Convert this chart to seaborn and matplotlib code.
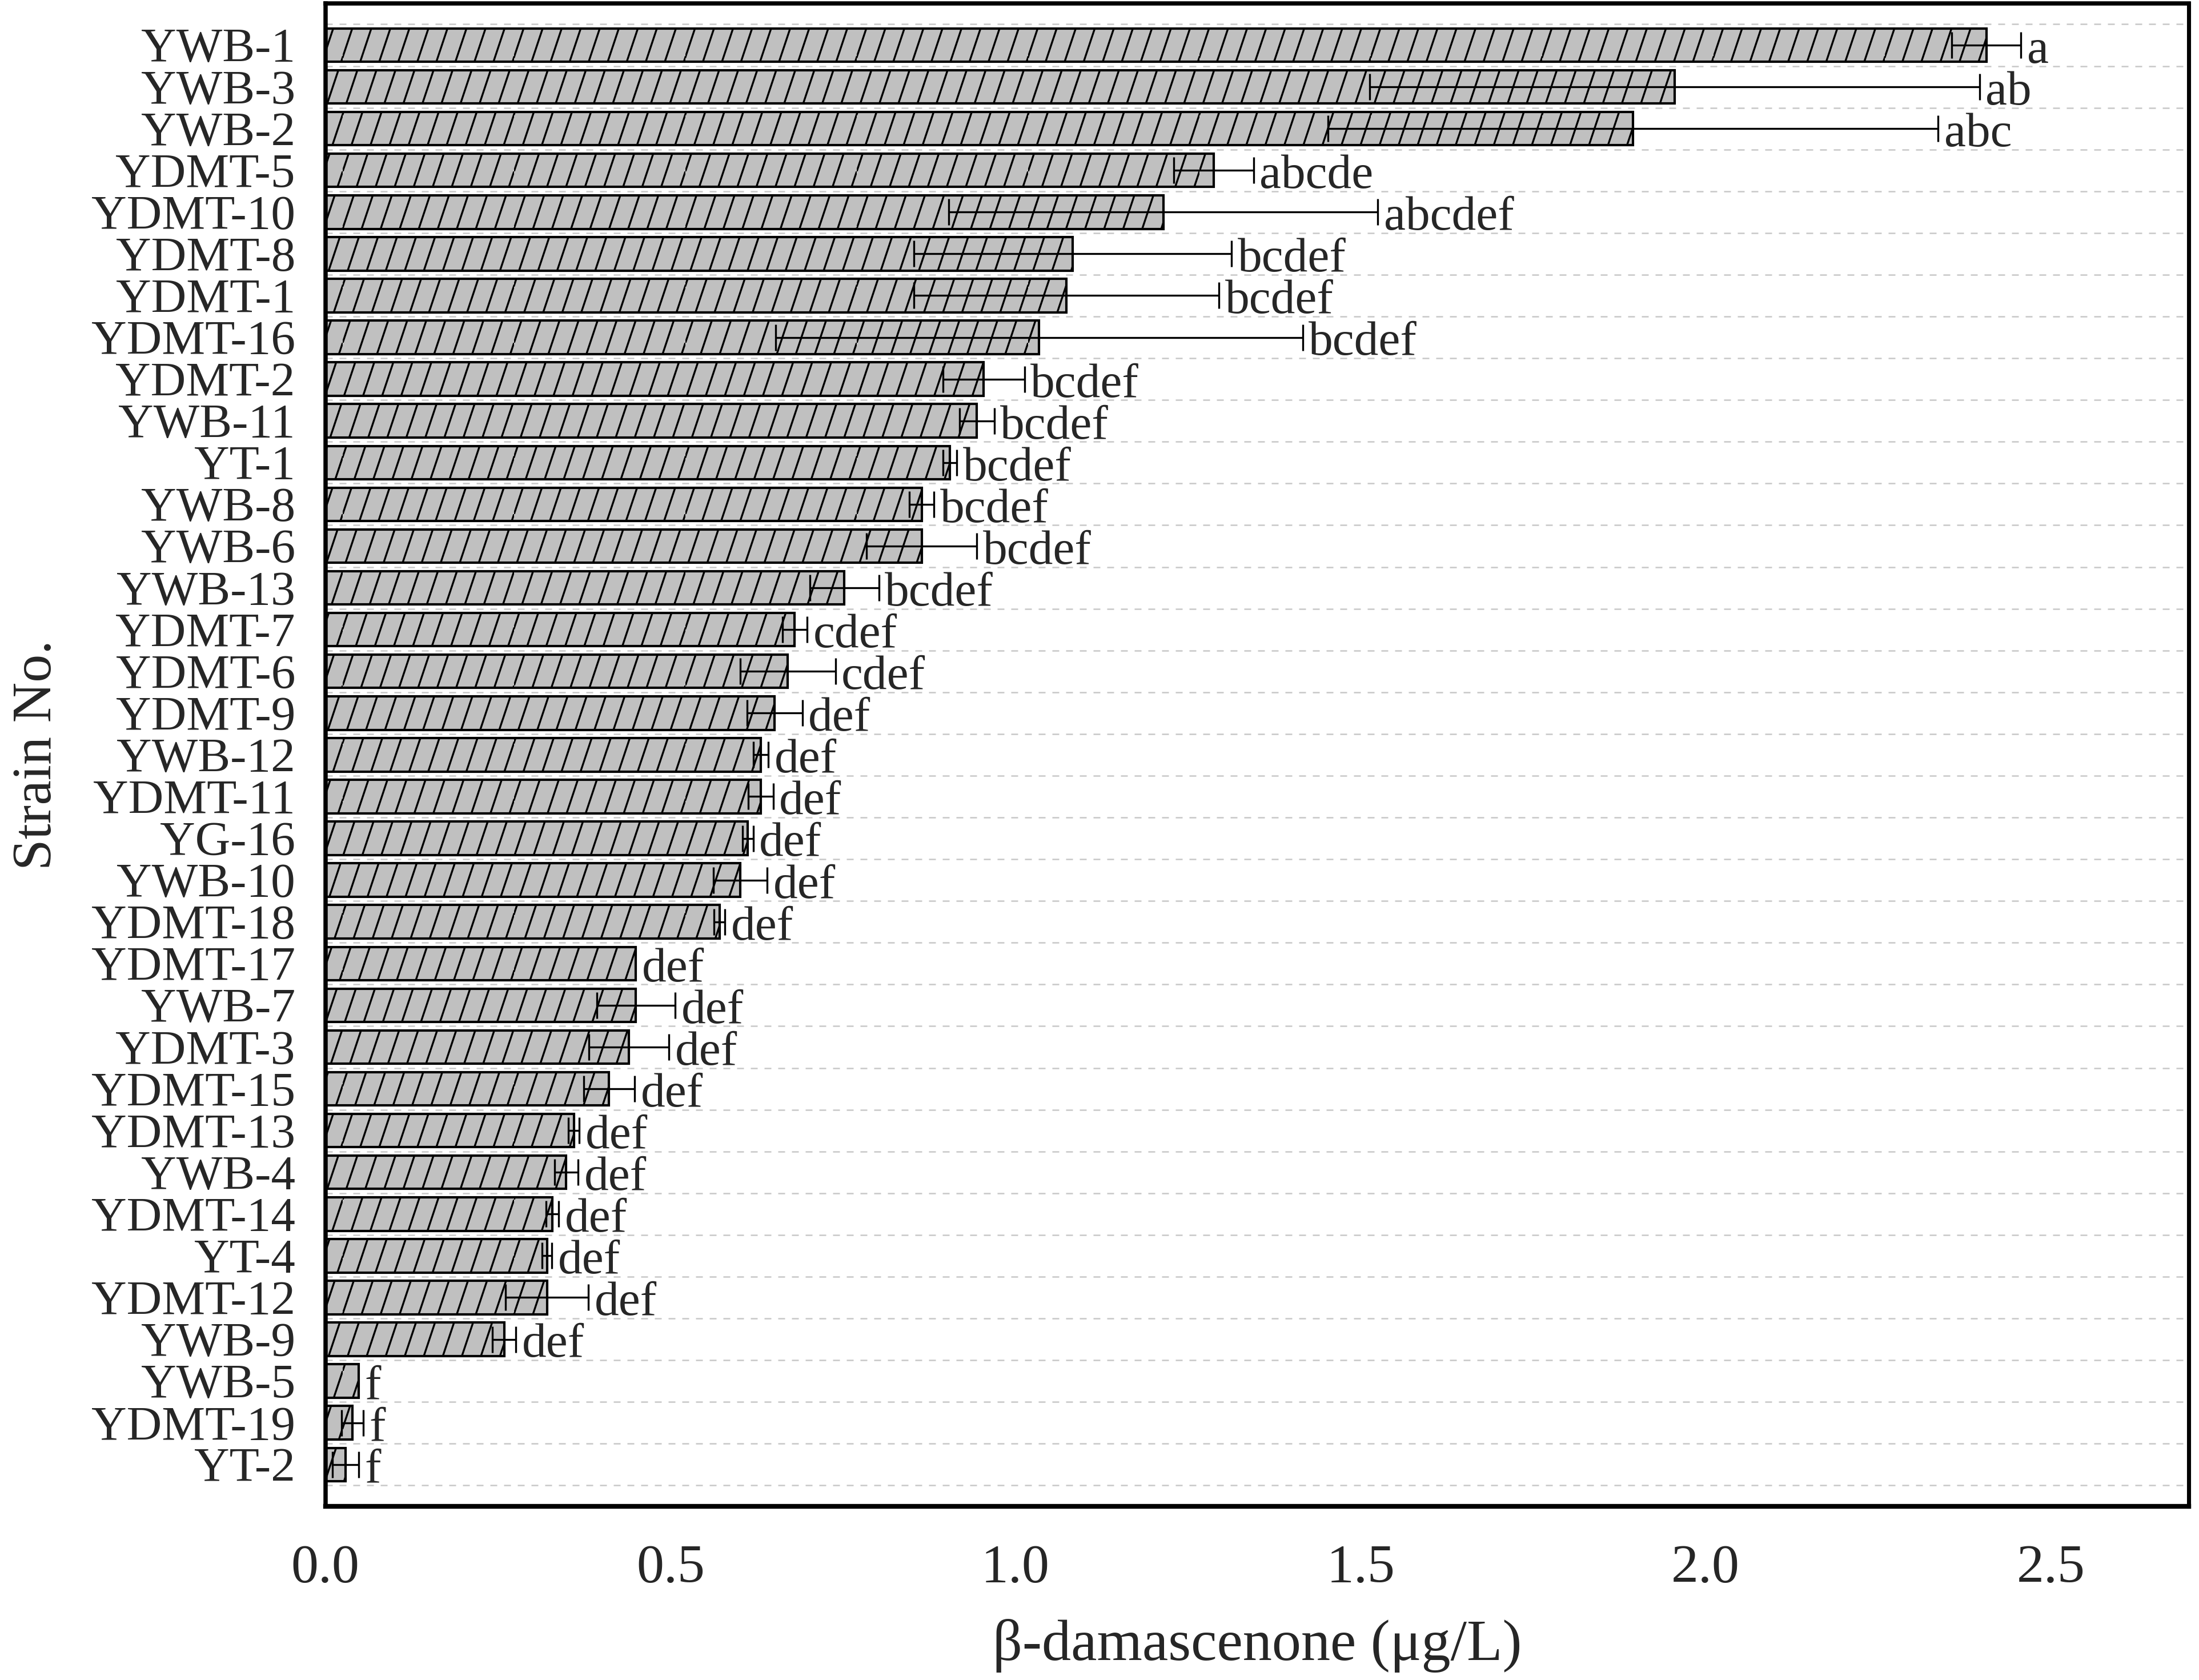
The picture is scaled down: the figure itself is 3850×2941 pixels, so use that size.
import numpy as np
import matplotlib
matplotlib.use('Agg')
import matplotlib.pyplot as plt
import seaborn as sns
from matplotlib import hatch as mhatch
from matplotlib.path import Path
from matplotlib.ticker import MultipleLocator, FixedLocator

strains = ["YWB-1", "YWB-3", "YWB-2", "YDMT-5", "YDMT-10", "YDMT-8", "YDMT-1",
           "YDMT-16", "YDMT-2", "YWB-11", "YT-1", "YWB-8", "YWB-6", "YWB-13",
           "YDMT-7", "YDMT-6", "YDMT-9", "YWB-12", "YDMT-11", "YG-16", "YWB-10",
           "YDMT-18", "YDMT-17", "YWB-7", "YDMT-3", "YDMT-15", "YDMT-13", "YWB-4",
           "YDMT-14", "YT-4", "YDMT-12", "YWB-9", "YWB-5", "YDMT-19", "YT-2"]

means = [2.407, 1.955, 1.895, 1.287, 1.214, 1.083, 1.074,
         1.034, 0.954, 0.944, 0.905, 0.864, 0.864, 0.752,
         0.680, 0.670, 0.651, 0.631, 0.631, 0.612, 0.601,
         0.571, 0.450, 0.450, 0.440, 0.411, 0.360, 0.349,
         0.329, 0.321, 0.321, 0.259, 0.048, 0.039, 0.029]

sds = [0.050, 0.442, 0.442, 0.058, 0.311, 0.230, 0.221,
       0.382, 0.059, 0.025, 0.010, 0.018, 0.080, 0.050,
       0.018, 0.069, 0.040, 0.011, 0.018, 0.008, 0.039,
       0.008, 0.0, 0.057, 0.058, 0.037, 0.008, 0.017,
       0.009, 0.007, 0.060, 0.017, 0.0, 0.016, 0.019]

letters = ["a", "ab", "abc", "abcde", "abcdef", "bcdef", "bcdef",
           "bcdef", "bcdef", "bcdef", "bcdef", "bcdef", "bcdef", "bcdef",
           "cdef", "cdef", "def", "def", "def", "def", "def",
           "def", "def", "def", "def", "def", "def", "def",
           "def", "def", "def", "def", "f", "f", "f"]

x_ticks = [0.0, 0.5, 1.0, 1.5, 2.0, 2.5]


# steeper '/' hatch than the stock 45 degree one (9 lines per inch, slope 3)
class SteepHatch(mhatch.HatchPatternBase):
    def __init__(self, hatch, density):
        self.segs = []
        if '/' in hatch:
            n, shift = 9, 3
            k = shift / n
            for j in range(n):
                x0 = j / n
                x1 = x0 + k
                if x1 <= 1 + 1e-9:
                    self.segs.append(((x0, 0.0), (x1, 1.0)))
                else:
                    y1 = (1 - x0) / k
                    self.segs.append(((x0, 0.0), (1.0, y1)))
                    self.segs.append(((0.0, y1), (x1 - 1, 1.0)))
        self.num_vertices = 2 * len(self.segs)

    def set_vertices_and_codes(self, vertices, codes):
        for i, (a, b) in enumerate(self.segs):
            vertices[2 * i] = a
            vertices[2 * i + 1] = b
        codes[0::2] = Path.MOVETO
        codes[1::2] = Path.LINETO


mhatch._hatch_types[mhatch._hatch_types.index(mhatch.NorthEastHatch)] = SteepHatch


def plot_damascenone(out_path='out.png'):
    sns.set_style('white')
    plt.rcParams['font.family'] = ['Liberation Serif', 'DejaVu Serif']
    plt.rcParams['hatch.linewidth'] = 0.8
    plt.rcParams['hatch.color'] = 'black'

    fig = plt.figure(figsize=(3850 / 300, 2941 / 300), dpi=300)
    ax = fig.add_axes([0.148, 0.1034, 0.8473, 0.8946])

    sns.barplot(x=means, y=strains, orient='h', color='#c0c0c0', saturation=1,
                edgecolor='black', linewidth=1.0, hatch='///', width=0.8, ax=ax)

    # error bars only where there is a spread
    pos = np.arange(len(strains))
    m = np.array(means)
    s = np.array(sds)
    has_err = s > 0
    ax.errorbar(m[has_err], pos[has_err], xerr=s[has_err], fmt='none',
                ecolor='black', elinewidth=0.8, capsize=5.5, capthick=0.8, zorder=3)

    # significance letters
    for i, (mv, sv, lt) in enumerate(zip(means, sds, letters)):
        ax.annotate(lt, (mv + sv, i), xytext=(2.5, -2.5), textcoords='offset points',
                    ha='left', va='center', fontsize=20.5)

    ax.set_xlim(0, 2.7)
    ax.set_ylim(len(strains), -1)
    ax.set_xticks(x_ticks)
    ax.set_xticklabels([f'{t:.1f}' for t in x_ticks])
    ax.xaxis.set_minor_locator(MultipleLocator(0.1))
    ax.yaxis.set_minor_locator(FixedLocator(np.arange(-0.5, len(strains), 1.0)))

    ax.tick_params(axis='x', which='major', direction='in', length=11, width=1.8,
                   labelsize=23, pad=16, top=False)
    ax.tick_params(axis='x', which='minor', direction='in', length=5, width=1.8, top=False)
    ax.tick_params(axis='y', which='both', length=0, labelsize=20.5, pad=12.7)

    ax.set_axisbelow(True)
    ax.yaxis.grid(True, which='minor', linestyle=(0, (4.8, 4.8)), color='#c8c8c8',
                  linewidth=0.6)

    for side, lw in [('top', 1.8), ('left', 1.8), ('bottom', 2.0), ('right', 1.7)]:
        ax.spines[side].set_visible(True)
        ax.spines[side].set_linewidth(lw)
        ax.spines[side].set_color('black')

    ax.set_xlabel('β-damascenone (μg/L)', fontsize=24.5)
    ax.set_ylabel('Strain No.', fontsize=23.5)
    ax.xaxis.set_label_coords(0.5, -0.075)
    ax.yaxis.set_label_coords(-0.141, 0.5)

    fig.savefig(out_path, dpi=300)
    plt.close(fig)


if __name__ == '__main__':
    plot_damascenone()
